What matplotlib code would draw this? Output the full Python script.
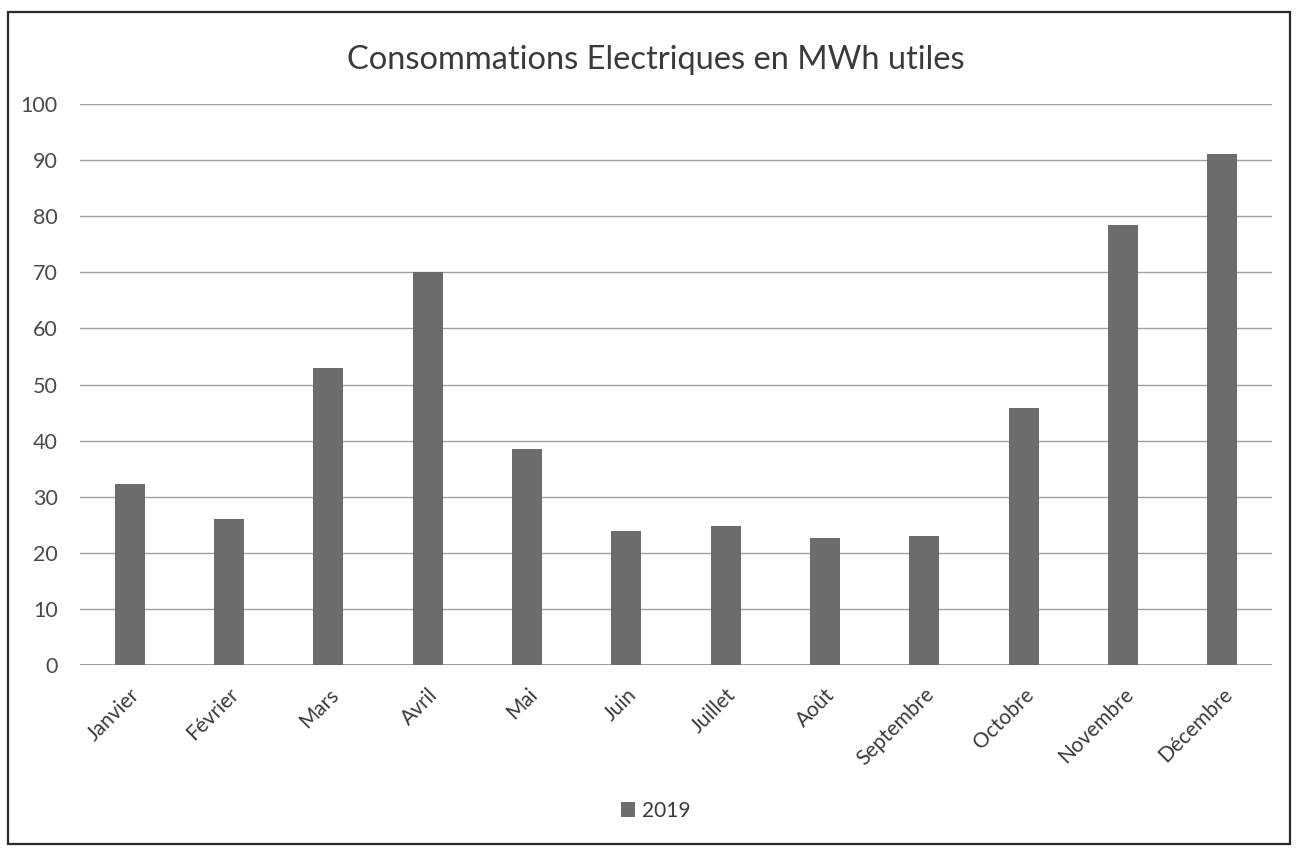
import numpy as np
import matplotlib
matplotlib.use('Agg')
import matplotlib.pyplot as plt
from matplotlib.patches import Rectangle

plt.rcParams['font.family'] = ['Lato', 'DejaVu Sans']

mois = ['Janvier', 'Février', 'Mars', 'Avril', 'Mai', 'Juin', 'Juillet',
        'Août', 'Septembre', 'Octobre', 'Novembre', 'Décembre']
conso_2019 = [32.3, 26.1, 53.0, 70.0, 38.5, 23.8, 24.8, 22.6, 23.0, 45.8, 78.5, 91.0]
serie = '2019'
titre = 'Consommations Electriques en MWh utiles'

fig = plt.figure(figsize=(12.98, 8.49), dpi=100)
ax = fig.add_axes([0.0616, 0.2167, 0.9184, 0.6608])

ind = np.arange(len(mois))
bars = ax.bar(ind, conso_2019, 0.3, color='#6c6c6c', linewidth=0,
              label=serie, zorder=3)

ax.set_xlim(-0.5, len(mois) - 0.5)
ax.set_ylim(0, 100)
ax.set_yticks(np.arange(0, 101, 10))
ax.yaxis.grid(True, color='#a0a0a0', linewidth=1.0, zorder=0)
ax.set_axisbelow(True)
for s in ax.spines.values():
    s.set_visible(False)
ax.axhline(0, color='#8c8c8c', linewidth=1.2, zorder=2)
ax.tick_params(length=0)
ax.tick_params(axis='y', labelsize=15.5, labelcolor='#4a4a4a', pad=16)
ax.set_xticks(ind)
ax.set_xticklabels(mois, rotation=45, ha='right', rotation_mode='anchor',
                   fontsize=15, color='#3a3a3a')
ax.tick_params(axis='x', pad=14)

fig.text(0.505, 0.929, titre, ha='center', va='center', fontsize=23.5, color='#3a3a3a')

fig.legend(handles=[bars[0]], labels=[serie], loc='center', bbox_to_anchor=(0.505, 0.045),
           frameon=False, fontsize=15, handlelength=0.7, handleheight=0.7,
           handletextpad=0.3, labelcolor='#3a3a3a')

# cadre autour du graphique
fig.patches.append(Rectangle((0.006, 0.006), 0.988, 0.98, transform=fig.transFigure,
                             fill=False, edgecolor='#2b2b2b', linewidth=1.6))

fig.savefig('out.png', dpi=100)
